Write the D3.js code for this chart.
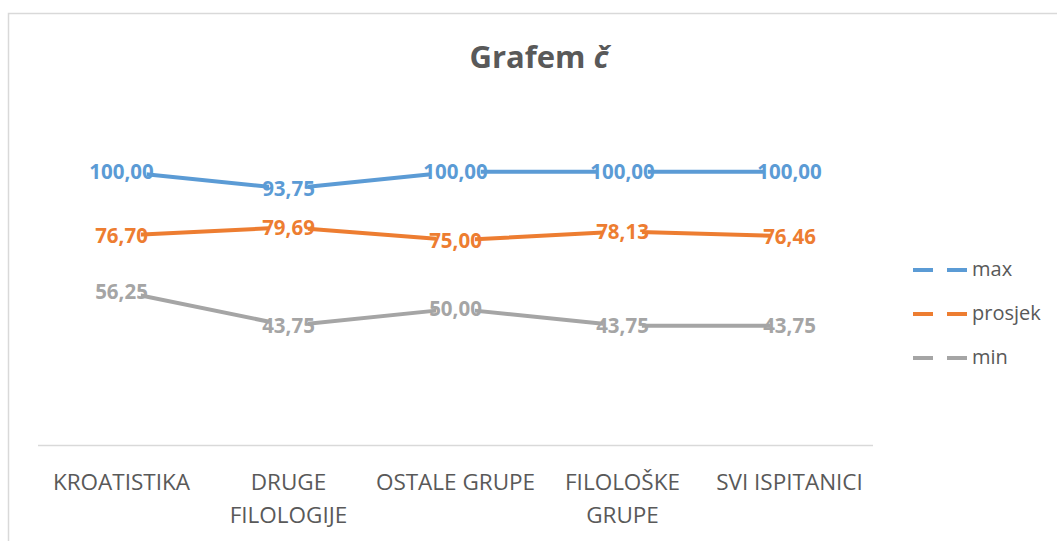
<!DOCTYPE html>
<html>
<head>
<meta charset="utf-8">
<script src="https://cdn.jsdelivr.net/npm/d3@7"></script>
<style>
    body { margin: 0; background: #fff; }
    svg { display: block; font-family: "Open Sans", sans-serif; }
</style>
</head>
<body>
<svg id="chart" width="1057" height="541"></svg>
<script>
const categories = ['KROATISTIKA', 'DRUGE FILOLOGIJE', 'OSTALE GRUPE', 'FILOLOŠKE GRUPE', 'SVI ISPITANICI']
// how the category labels wrap
const categoryLines = [['KROATISTIKA'], ['DRUGE', 'FILOLOGIJE'], ['OSTALE GRUPE'], ['FILOLOŠKE', 'GRUPE'], ['SVI ISPITANICI']]
const seriesNames = ['max', 'prosjek', 'min']
const maxValues = [100.00, 93.75, 100.00, 100.00, 100.00]
const avgValues = [76.70, 79.69, 75.00, 78.13, 76.46]
const minValues = [56.25, 43.75, 50.00, 43.75, 43.75]
const seriesColors = ['#5B9BD5', '#ED7D31', '#A5A5A5']

const series = seriesNames.map((name, i) => ({
    name: name,
    color: seriesColors[i],
    values: [maxValues, avgValues, minValues][i]
}))

const svg = d3.select('#chart')

const DIM = {
    left: 38,
    right: 873,
    top: 117,
    bottom: 445.5
}

// chart frame, cut off at the right and bottom like the original
svg.append('rect')
    .attr('x', 8.5)
    .attr('y', 13.5)
    .attr('width', 1100)
    .attr('height', 600)
    .attr('fill', 'none')
    .attr('stroke', '#D9D9D9')
    .attr('stroke-width', 1.5)

const x = d3.scaleBand()
    .domain(categories)
    .range([DIM.left, DIM.right])

const y = d3.scaleLinear()
    .domain([0, 120])
    .range([DIM.bottom, DIM.top])

svg.append('text')
    .attr('x', 539)
    .attr('y', 68)
    .attr('text-anchor', 'middle')
    .attr('font-size', 31)
    .attr('font-weight', 'bold')
    .attr('fill', '#595959')
    .text('Grafem ')
    .append('tspan')
    .attr('font-style', 'italic')
    .text('č')

// x axis: just the base line and the category names
svg.append('line')
    .attr('x1', DIM.left)
    .attr('x2', DIM.right)
    .attr('y1', y(0))
    .attr('y2', y(0))
    .attr('stroke', '#D9D9D9')
    .attr('stroke-width', 1.5)

const catText = svg.append('g')
    .selectAll('text')
    .data(categories)
    .join('text')
    .attr('x', d => x(d) + x.bandwidth() / 2)
    .attr('y', 490)
    .attr('text-anchor', 'middle')
    .attr('font-size', 22.5)
    .attr('fill', '#595959')

catText.selectAll('tspan')
    .data((d, i) => categoryLines[i])
    .join('tspan')
    .attr('x', function() { return d3.select(this.parentNode).attr('x') })
    .attr('dy', (d, i) => i === 0 ? 0 : 33)
    .text(d => d)

const line = d3.line()
    .x((d, i) => x(categories[i]) + x.bandwidth() / 2)
    .y(d => y(d))

svg.append('g')
    .selectAll('path')
    .data(series)
    .join('path')
    .attr('d', d => line(d.values))
    .attr('fill', 'none')
    .attr('stroke', d => d.color)
    .attr('stroke-width', 4)
    .attr('stroke-linejoin', 'round')

const fmt = v => v.toFixed(2).replace('.', ',')

// data labels sit on the points, with a white box a little narrower than the text
const labels = svg.append('g')
    .selectAll('g')
    .data(series.flatMap(s => s.values.map((v, i) => ({ v: v, i: i, color: s.color }))))
    .join('g')
    .attr('transform', d => `translate(${x(categories[d.i]) + x.bandwidth() / 2}, ${y(d.v)})`)

labels.append('rect')
labels.append('text')
    .attr('text-anchor', 'middle')
    .attr('dy', '0.36em')
    .attr('font-size', 20.5)
    .attr('font-weight', 'bold')
    .attr('fill', d => d.color)
    .text(d => fmt(d.v))

labels.each(function() {
    const g = d3.select(this)
    const w = g.select('text').node().getComputedTextLength()
    g.select('rect')
        .attr('x', -w / 2 + 7)
        .attr('y', -11)
        .attr('width', w - 14)
        .attr('height', 22)
        .attr('fill', '#fff')
})

const legend = svg.append('g')
    .selectAll('g')
    .data(series)
    .join('g')
    .attr('transform', (d, i) => `translate(913, ${270 + i * 44})`)

legend.append('line')
    .attr('x1', 0)
    .attr('x2', 54)
    .attr('stroke', d => d.color)
    .attr('stroke-width', 4)
    .attr('stroke-dasharray', '20 14 20')

legend.append('text')
    .attr('x', 59)
    .attr('dy', '0.32em')
    .attr('font-size', 20)
    .attr('fill', '#595959')
    .text(d => d.name)
</script>
</body>
</html>
